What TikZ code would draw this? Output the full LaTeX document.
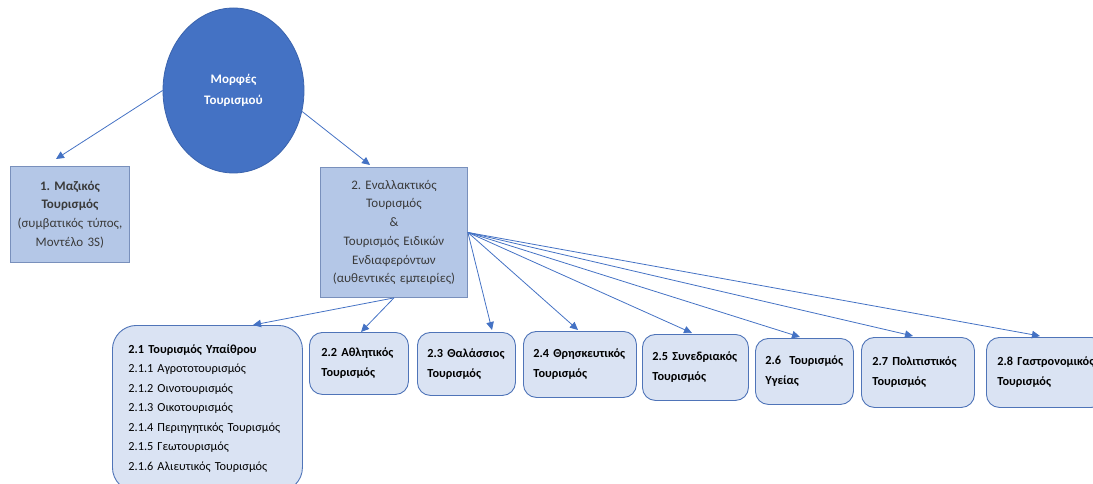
\documentclass[tikz,border=0pt]{standalone}
\usepackage{fontspec}
\setmainfont{Carlito}
\usetikzlibrary{arrows.meta,calc,shapes.geometric}
\frenchspacing

\definecolor{circfill}{HTML}{4472C4}
\definecolor{circline}{HTML}{3A63AD}
\definecolor{mainfill}{HTML}{B4C7E7}
\definecolor{mainline}{HTML}{7990BC}
\definecolor{subfill}{HTML}{DAE3F3}
\definecolor{subline}{HTML}{4F74B8}
\definecolor{linkcol}{HTML}{4472C4}
\definecolor{graytext}{HTML}{3A3A3A}

% two-line label that never wraps
\newcommand\twolines[2]{\mbox{#1}\\\mbox{#2}}

\tikzset{
  hub/.style={ellipse, draw=circline, line width=0.8pt, fill=circfill,
    minimum width=141pt, minimum height=165pt, inner sep=0pt,
    text=white, align=center, font=\fontsize{13}{20}\selectfont\bfseries},
  mainbox/.style={rectangle, draw=mainline, line width=0.9pt, fill=mainfill,
    anchor=north west, inner sep=0pt, align=center, text=graytext,
    font=\fontsize{13}{18.7}\selectfont},
  subbox/.style={rectangle, rounded corners=13pt, draw=subline, line width=0.9pt,
    fill=subfill, anchor=north west, inner ysep=0pt, align=left, text=black,
    font=\fontsize{12.3}{20}\selectfont\bfseries},
  link/.style={draw=linkcol, line width=0.8pt,
    -{Triangle[length=8pt,width=7.5pt]}}
}

\begin{document}
\begin{tikzpicture}[x=1pt,y=-1pt]
  \useasboundingbox (0,0) rectangle (1093,484);
  \clip (0,0) rectangle (1093,484);

  % root
  \node[hub] (root) at (233.5,90.5) {\raisebox{-15pt}{\shortstack{Μορφές\\[6pt]Τουρισμού}}};

  % first level
  \node[mainbox, minimum width=119pt, minimum height=96pt, text width=119pt]
    (mass) at (10,166)
    {\textbf{1. Μαζικός}\\\textbf{Τουρισμός}\\(συμβατικός τύπος,\\Μοντέλο 3S)};
  \node[mainbox, minimum width=147pt, minimum height=130pt, text width=147pt]
    (alt) at (320,167)
    {2. Εναλλακτικός\\Τουρισμός\\\&\\Τουρισμός Ειδικών\\Ενδιαφερόντων\\(αυθεντικές εμπειρίες)};

  % second level
  \node[subbox, rounded corners=24pt, inner xsep=16pt, minimum width=190pt,
        minimum height=166pt, text width=158pt, font=\fontsize{12.3}{19.5}\selectfont]
    (s1) at (112,325)
    {\mbox{\textbf{2.1 Τουρισμός Υπαίθρου}}\\\mbox{2.1.1 Αγροτοτουρισμός}\\\mbox{2.1.2 Οινοτουρισμός}\\\mbox{2.1.3 Οικοτουρισμός}\\\mbox{2.1.4 Περιηγητικός Τουρισμός}\\\mbox{2.1.5 Γεωτουρισμός}\\\mbox{2.1.6 Αλιευτικός Τουρισμός}};
  \node[subbox, inner xsep=12pt, minimum width=99pt, minimum height=62pt, text width=75pt]
    (s2) at (309,332) {\twolines{2.2 Αθλητικός}{Τουρισμός}};
  \node[subbox, inner xsep=10pt, minimum width=98pt, minimum height=63pt, text width=78pt]
    (s3) at (417,332) {\twolines{2.3 Θαλάσσιος}{Τουρισμός}};
  \node[subbox, inner xsep=10pt, minimum width=113pt, minimum height=66pt, text width=93pt]
    (s4) at (523,331) {\twolines{2.4 Θρησκευτικός}{Τουρισμός}};
  \node[subbox, inner xsep=10pt, minimum width=106pt, minimum height=66pt, text width=86pt]
    (s5) at (642,334) {\twolines{2.5 Συνεδριακός}{Τουρισμός}};
  \node[subbox, inner xsep=10pt, minimum width=98pt, minimum height=66pt, text width=78pt]
    (s6) at (755,338) {\twolines{2.6\ \ Τουρισμός}{Υγείας}};
  \node[subbox, inner xsep=11pt, minimum width=113pt, minimum height=70pt, text width=91pt]
    (s7) at (861,337) {\twolines{2.7 Πολιτιστικός}{Τουρισμός}};
  \node[subbox, inner xsep=11pt, minimum width=118pt, minimum height=70pt, text width=96pt]
    (s8) at (986,337) {\twolines{2.8 Γαστρονομικός}{Τουρισμός}};

  % connectors
  \draw[link] (root.west) -- ($(mass.north west)+(46,-7)$);
  \draw[link] (root.-17) -- ($(alt.north west)+(50,-2)$);

  \draw[link] (alt.south) -- ($(s1.north west)+(141,0)$);
  \draw[link] (alt.south) -- ($(s2.north west)+(52,0)$);
  \draw[link] (alt.east) -- ($(s3.north west)+(75,-2)$);
  \draw[link] (alt.east) -- ($(s4.north west)+(55,-1)$);
  \draw[link] (alt.east) -- ($(s5.north west)+(50,-1)$);
  \draw[link] (alt.east) -- ($(s6.north west)+(45,-1)$);
  \draw[link] (alt.east) -- ($(s7.north west)+(52,-1)$);
  \draw[link] (alt.east) -- ($(s8.north west)+(54,-1)$);
\end{tikzpicture}
\end{document}
